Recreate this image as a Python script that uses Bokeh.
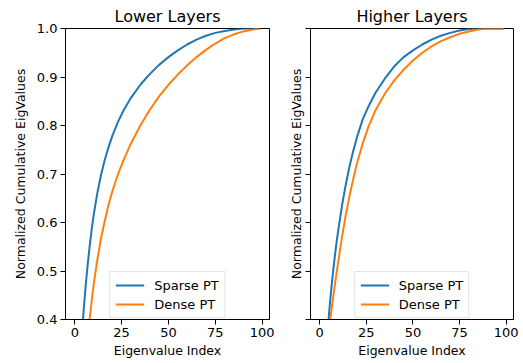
from bokeh.plotting import figure
from bokeh.layouts import row
from bokeh.models import (ColumnDataSource, Range1d, FixedTicker, Legend, LegendItem,
                          NumeralTickFormatter, CustomJSTickFormatter)
from bokeh.embed import file_html
from bokeh.resources import INLINE

idx = [3, 4, 5, 6, 7, 8, 9, 10, 12, 14, 16, 18, 20, 23, 26, 30, 35, 40, 45, 50,
       55, 60, 65, 70, 75, 80, 85, 90, 95, 99]

lower_sparse = [0.32, 0.38, 0.432, 0.477, 0.517, 0.553, 0.585, 0.613, 0.66, 0.698,
                0.729, 0.755, 0.778, 0.807, 0.831, 0.857, 0.884, 0.906, 0.925, 0.941,
                0.955, 0.967, 0.977, 0.985, 0.991, 0.995, 0.998, 1.0, 1.0, 1.0]
lower_dense = [0.20, 0.25, 0.29, 0.33, 0.367, 0.403, 0.437, 0.47, 0.522, 0.567,
               0.603, 0.636, 0.664, 0.699, 0.728, 0.763, 0.800, 0.832, 0.860, 0.884,
               0.905, 0.924, 0.941, 0.956, 0.969, 0.980, 0.988, 0.994, 0.998, 1.0]
higher_sparse = [0.30, 0.36, 0.412, 0.455, 0.493, 0.527, 0.558, 0.586, 0.636, 0.679,
                 0.716, 0.748, 0.776, 0.812, 0.838, 0.868, 0.897, 0.922, 0.941, 0.955,
                 0.967, 0.977, 0.985, 0.991, 0.996, 0.999, 1.0, 1.0, 1.0, 1.0]
higher_dense = [0.29, 0.34, 0.38, 0.411, 0.44, 0.468, 0.495, 0.521, 0.571, 0.616,
                0.655, 0.69, 0.722, 0.762, 0.796, 0.832, 0.866, 0.893, 0.915, 0.934,
                0.95, 0.963, 0.974, 0.982, 0.989, 0.994, 0.998, 1.0, 1.0, 1.0]

titles = ["Lower Layers", "Higher Layers"]
series_names = ["Sparse PT", "Dense PT"]
x_ticks = [0, 25, 50, 75, 100]
y_ticks = [0.4, 0.5, 0.6, 0.7, 0.8, 0.9, 1.0]
colors = ["#1f77b4", "#ff7f0e"]

FONT = "DejaVu Sans"


def make_panel(title, sparse, dense, show_ylabels, bl, br, fw):
    src = ColumnDataSource(dict(x=idx, s=sparse, d=dense))
    p = figure(frame_width=fw, frame_height=291, output_backend="svg",
               toolbar_location=None, min_border_left=bl, min_border_right=br,
               min_border_top=28, min_border_bottom=44,
               x_range=Range1d(-4.95, 103.95), y_range=Range1d(0.4, 1.0))
    p.title.text = title
    p.title.text_font = FONT
    p.title.text_font_size = "16px"
    p.title.text_font_style = "normal"
    p.title.align = "center"
    p.title.text_color = "black"
    p.title.standoff = 6
    r1 = p.line("x", "s", source=src, line_color=colors[0], line_width=2)
    r2 = p.line("x", "d", source=src, line_color=colors[1], line_width=2)
    p.grid.visible = False
    p.outline_line_color = "black"
    p.outline_line_width = 1
    p.outline_line_alpha = 1
    p.background_fill_color = "white"
    p.border_fill_color = "white"

    for ax in (p.xaxis[0], p.yaxis[0]):
        ax.axis_line_color = "black"
        ax.major_tick_line_color = "black"
        ax.major_tick_out = 5
        ax.major_tick_in = 0
        ax.minor_tick_line_color = None
        ax.major_label_text_font = FONT
        ax.major_label_text_font_size = "13px"
        ax.major_label_text_color = "black"
        ax.axis_label_text_font = FONT
        ax.axis_label_text_font_size = "12.5px"
        ax.axis_label_text_font_style = "normal"
        ax.axis_label_text_color = "black"
    p.xaxis.ticker = FixedTicker(ticks=x_ticks)
    p.yaxis.ticker = FixedTicker(ticks=y_ticks)
    p.xaxis.axis_label = "Eigenvalue Index"
    p.xaxis.major_label_standoff = 3
    p.xaxis.axis_label_standoff = 3
    p.yaxis.axis_label = "Normalized Cumulative EigValues"
    if show_ylabels:
        p.yaxis.formatter = NumeralTickFormatter(format="0.0")
        p.yaxis.major_label_standoff = 3
        p.yaxis.axis_label_standoff = 6
    else:
        p.yaxis.formatter = CustomJSTickFormatter(code="return '';")
        p.yaxis.major_label_standoff = 0
        p.yaxis.axis_label_standoff = 2

    legend = Legend(items=[LegendItem(label=series_names[0], renderers=[r1]),
                           LegendItem(label=series_names[1], renderers=[r2])],
                    location="bottom_center")
    legend.label_text_font = FONT
    legend.label_text_font_size = "13px"
    legend.label_text_color = "black"
    legend.glyph_width = 29
    legend.glyph_height = 16
    legend.label_height = 16
    legend.label_standoff = 10
    legend.spacing = 3
    legend.padding = 5
    legend.margin = 1
    legend.border_line_color = "#cccccc"
    legend.border_line_width = 1
    legend.background_fill_alpha = 1
    p.add_layout(legend)
    return p


p1 = make_panel(titles[0], lower_sparse, lower_dense, True, 65, 16, 204)
p2 = make_panel(titles[1], higher_sparse, higher_dense, False, 24, 11, 203)
layout = row(p1, p2)

open("out.html", "w").write(file_html(layout, INLINE))
